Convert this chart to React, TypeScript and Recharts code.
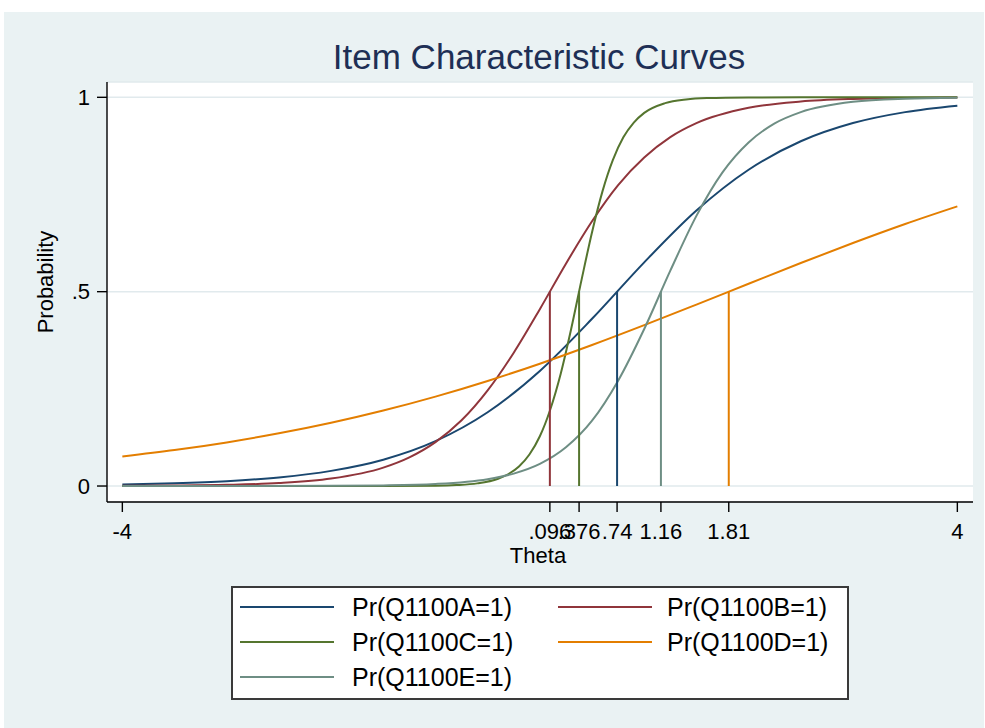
import React from 'react';
import { LineChart, Line, XAxis, YAxis, CartesianGrid, ReferenceLine, Legend } from 'recharts';

const FONT = '"Liberation Sans", Arial, Helvetica, sans-serif';

// Items, colours and difficulty (theta at P = .5)
const seriesNames = ['Pr(Q1100A=1)', 'Pr(Q1100B=1)', 'Pr(Q1100C=1)', 'Pr(Q1100D=1)', 'Pr(Q1100E=1)'];
const seriesColors = ['#1a476f', '#90353b', '#55752f', '#e37e00', '#6e8e84'];
const difficulty = [0.74, 0.096, 0.376, 1.81, 1.16];

// Curve readings (theta, probability)
const thetaA = [-4, -3.5, -3, -2.5, -2, -1.5, -1, -0.5, 0, 0.5, 1, 1.5, 2, 2.5, 3, 3.5, 4];
const probA = [0.0039, 0.007, 0.0124, 0.0221, 0.039, 0.0678, 0.1155, 0.1898, 0.2961, 0.4302, 0.5754, 0.7087, 0.8137, 0.8869, 0.9337, 0.9619, 0.9784];

const thetaB = [-4, -3.5, -3, -2.5, -2, -1.5, -1.25, -1, -0.75, -0.5, -0.25, 0, 0.25, 0.5, 0.75, 1, 1.25, 1.5, 2, 2.5, 3, 3.5, 4];
const probB = [0.0005, 0.0012, 0.003, 0.0075, 0.0191, 0.0474, 0.0738, 0.113, 0.169, 0.246, 0.343, 0.455, 0.572, 0.681, 0.774, 0.845, 0.8975, 0.9334, 0.9729, 0.9892, 0.9958, 0.9983, 0.9994];

const thetaC = [-4, -3, -2, -1.5, -1, -0.8, -0.6, -0.4, -0.3, -0.2, -0.1, 0, 0.1, 0.2, 0.3, 0.4, 0.5, 0.6, 0.7, 0.8, 0.9, 1.0, 1.2, 1.4, 1.6, 2, 2.5, 3, 4];
const probC = [0, 0, 0.00001, 0.00007, 0.0009, 0.0025, 0.0068, 0.0187, 0.0309, 0.0503, 0.081, 0.128, 0.197, 0.289, 0.404, 0.531, 0.653, 0.758, 0.839, 0.897, 0.935, 0.96, 0.985, 0.9946, 0.9981, 0.9997, 1, 1, 1];

const thetaD = [-4, -3.5, -3, -2.5, -2, -1.5, -1, -0.5, 0, 0.5, 1, 1.5, 2, 2.5, 3, 3.5, 4];
const probD = [0.076, 0.0925, 0.1122, 0.1355, 0.1627, 0.1942, 0.23, 0.2703, 0.3147, 0.3628, 0.4139, 0.4668, 0.5204, 0.5737, 0.6252, 0.6741, 0.7194];

const thetaE = [-4, -3, -2, -1.5, -1, -0.5, -0.25, 0, 0.25, 0.5, 0.75, 1, 1.25, 1.5, 1.75, 2, 2.25, 2.5, 3, 3.5, 4];
const probE = [0.000004, 0.00004, 0.0005, 0.0016, 0.0053, 0.0177, 0.032, 0.0569, 0.0996, 0.168, 0.271, 0.404, 0.554, 0.695, 0.807, 0.884, 0.933, 0.962, 0.9885, 0.9965, 0.999];

// Axis ticks
const xTicks = [-4, 0.096, 0.376, 0.74, 1.16, 1.81, 4];
const xTickLabels = ['-4', '.096', '.376', '.74', '1.16', '1.81', '4'];
const yTicks = [0, 0.5, 1];
const yTickLabels = ['0', '.5', '1'];

const zip = (t: number[], p: number[]) => t.map((theta, i) => ({ theta, p: p[i] }));
const seriesData = [zip(thetaA, probA), zip(thetaB, probB), zip(thetaC, probC), zip(thetaD, probD), zip(thetaE, probE)];

const fmtX = (v: number) => {
  const i = xTicks.findIndex((t) => Math.abs(t - v) < 1e-9);
  return i >= 0 ? xTickLabels[i] : String(v);
};
const fmtY = (v: number) => {
  const i = yTicks.findIndex((t) => Math.abs(t - v) < 1e-9);
  return i >= 0 ? yTickLabels[i] : String(v);
};

const LegendBox = () => {
  const lineX = [9, 327];
  const textX = [121, 436];
  return (
    <svg width={618} height={114} style={{ display: 'block' }}>
      <rect x={1} y={1} width={616} height={112} fill="#ffffff" stroke="#3a3a3a" strokeWidth={2} />
      {seriesNames.map((n, i) => {
        const col = i % 2;
        const row = Math.floor(i / 2);
        const cy = 21 + row * 35;
        return (
          <g key={n}>
            <line x1={lineX[col]} x2={lineX[col] + 94} y1={cy} y2={cy} stroke={seriesColors[i]} strokeWidth={2} />
            <text x={textX[col]} y={cy} dy="0.355em" fontSize={25} fontFamily={FONT} fill="#000">{n}</text>
          </g>
        );
      })}
    </svg>
  );
};

export default function App() {
  return (
    <div style={{ position: 'absolute', left: 0, top: 0, width: 985, height: 728, background: '#ffffff', overflow: 'hidden' }}>
      <div style={{ position: 'absolute', left: 4, top: 12, width: 980, height: 716, background: '#eaf2f3' }} />
      <div style={{ position: 'absolute', left: 0, top: 0 }}>
        <LineChart width={985} height={728} margin={{ top: 82, right: 12, bottom: 0, left: 0 }}>
          <CartesianGrid vertical={false} stroke="#e1eaed" strokeWidth={1.5} fill="#ffffff" />
          <XAxis
            dataKey="theta"
            type="number"
            domain={[-4.147, 4.15]}
            allowDataOverflow
            ticks={xTicks}
            interval={0}
            tickFormatter={fmtX}
            height={226}
            tickSize={10}
            tickMargin={11}
            stroke="#000"
            strokeWidth={1.4}
            tick={{ fill: '#000', fontSize: 22, fontFamily: FONT }}
            label={(props: any) => {
              const vb = props.viewBox || { x: 107, y: 502, width: 866 };
              return (
                <text x={vb.x + vb.width / 2 - 2} y={vb.y + 61} textAnchor="middle" fontSize={22} fontFamily={FONT} fill="#000">Theta</text>
              );
            }}
          />
          <YAxis
            type="number"
            domain={[-0.0411, 1.0394]}
            allowDataOverflow
            ticks={yTicks}
            interval={0}
            tickFormatter={fmtY}
            width={107}
            tickSize={10}
            tickMargin={7}
            stroke="#000"
            strokeWidth={1.4}
            tick={{ fill: '#000', fontSize: 22, fontFamily: FONT }}
            label={() => (
              <text x={53} y={282} transform="rotate(-90 53 282)" textAnchor="middle" fontSize={22} fontFamily={FONT} fill="#000">Probability</text>
            )}
          />
          {seriesData.map((d, i) => (
            <Line
              key={seriesNames[i]}
              data={d}
              dataKey="p"
              name={seriesNames[i]}
              type="monotone"
              stroke={seriesColors[i]}
              strokeWidth={2}
              dot={false}
              activeDot={false}
              isAnimationActive={false}
            />
          ))}
          {difficulty.map((b, i) => (
            <ReferenceLine
              key={'ref' + i}
              segment={[{ x: b, y: 0 }, { x: b, y: 0.5 }]}
              stroke={seriesColors[i]}
              strokeWidth={2}
              ifOverflow="visible"
            />
          ))}
          <Legend
            layout="horizontal"
            verticalAlign="middle"
            align="center"
            content={() => <LegendBox />}
            wrapperStyle={{ left: 231, top: 586, width: 618, height: 114 }}
          />
        </LineChart>
      </div>
      <svg width={985} height={728} style={{ position: 'absolute', left: 0, top: 0, pointerEvents: 'none' }}>
        <text x={539} y={69} textAnchor="middle" fontSize={35} fontFamily={FONT} fill="#1e2f55">Item Characteristic Curves</text>
      </svg>
    </div>
  );
}
